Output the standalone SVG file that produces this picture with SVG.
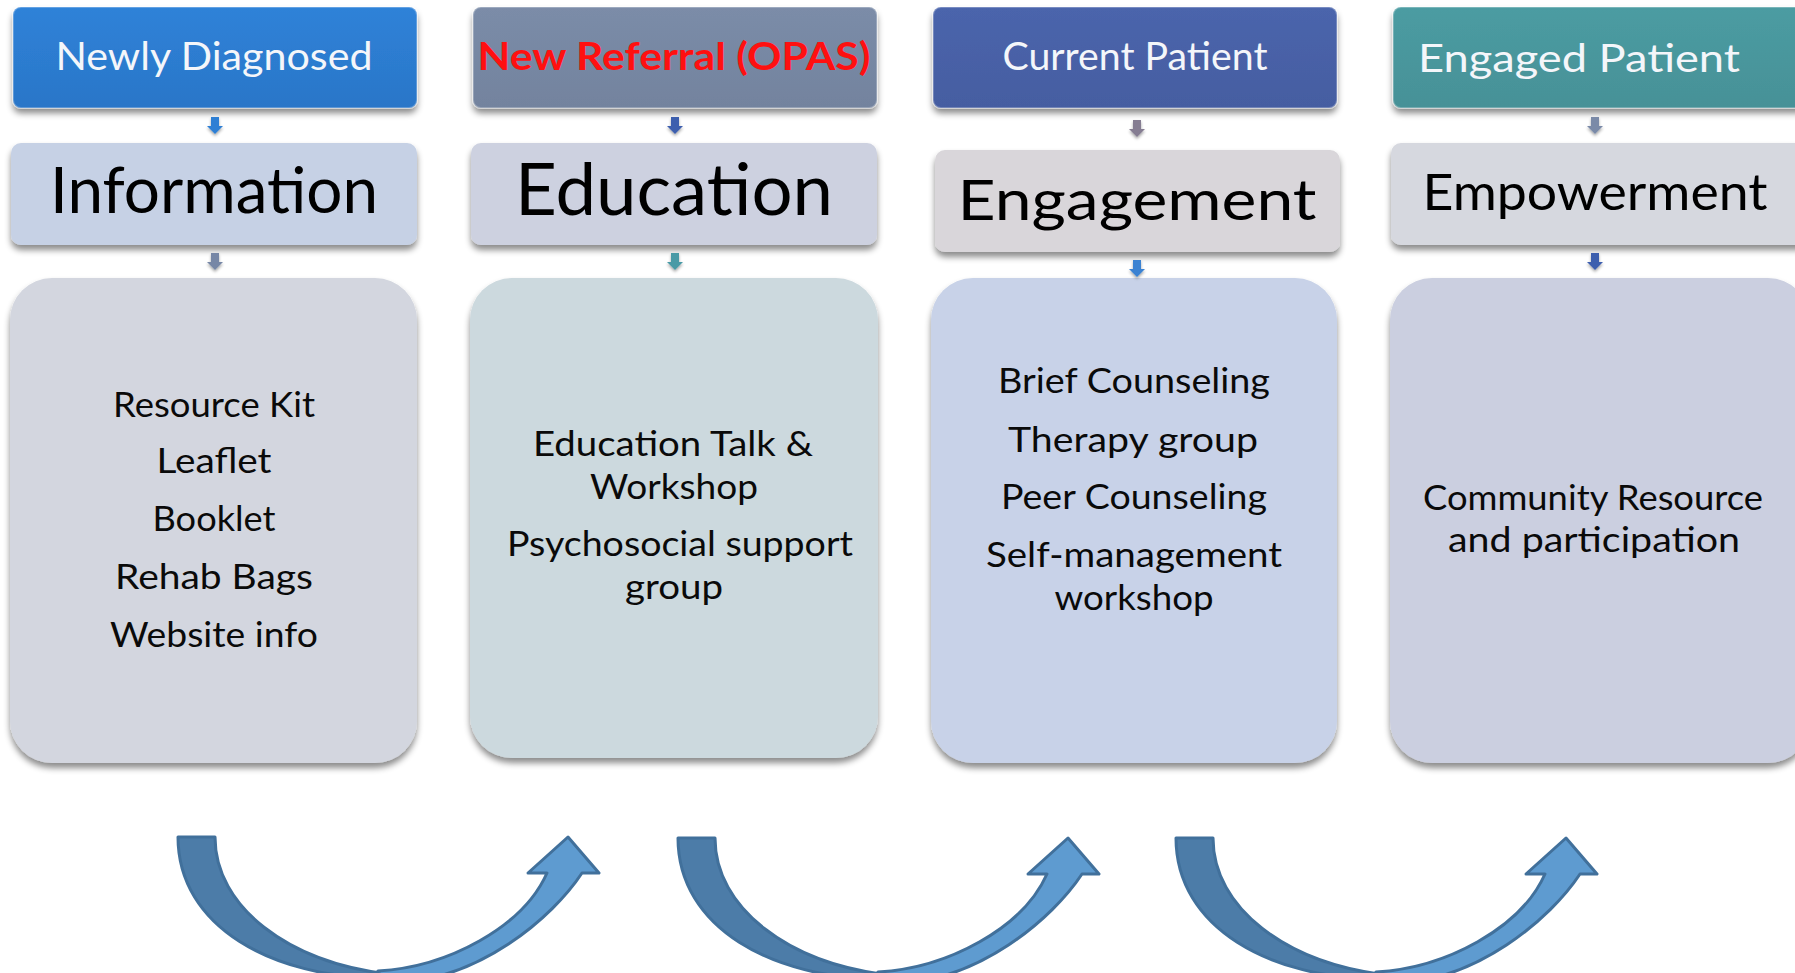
<svg xmlns="http://www.w3.org/2000/svg" width="1795" height="973" viewBox="0 0 1795 973">
<defs>
<filter id="sh" x="-10%" y="-10%" width="120%" height="135%">
<feDropShadow dx="0" dy="5" stdDeviation="3" flood-color="#000" flood-opacity="0.45"/>
</filter>
<filter id="shs" x="-50%" y="-50%" width="200%" height="200%">
<feDropShadow dx="0" dy="2" stdDeviation="1.5" flood-color="#000" flood-opacity="0.35"/>
</filter>
<linearGradient id="g1" x1="0" y1="0" x2="0" y2="1"><stop offset="0" stop-color="#2f82d8"/><stop offset="1" stop-color="#2a76c8"/></linearGradient>
<linearGradient id="g2" x1="0" y1="0" x2="0" y2="1"><stop offset="0" stop-color="#7b8ca8"/><stop offset="1" stop-color="#73839e"/></linearGradient>
<linearGradient id="g3" x1="0" y1="0" x2="0" y2="1"><stop offset="0" stop-color="#4b65ac"/><stop offset="1" stop-color="#455da1"/></linearGradient>
<linearGradient id="g4" x1="0" y1="0" x2="0" y2="1"><stop offset="0" stop-color="#4c9ca2"/><stop offset="1" stop-color="#469197"/></linearGradient>
<path id="sa" d="M-4,0 H4 V9 H8 L0,17 L-8,9 H-4 Z"/>
<g id="ua">
<path class="ad" d="M0,0 H37 C37,70 110,125 210,137 L205,141 C95,141 0,90 0,0 Z"/>
<path class="al" d="M200,134 C270,130 345,90 369,36 L350,36 L390,0 L421,36 L404,36 C375,80 300,145 215,145 C208,145 203,140 200,134 Z"/>
</g>
</defs>
<style>
.hdr{stroke:#ffffff;stroke-opacity:0.25;stroke-width:2;filter:url(#sh)}
.mid{filter:url(#sh)}
.big{filter:url(#sh)}
.ht{font-family:Lato,"Liberation Sans",sans-serif;font-size:38px;fill:#f4f6fa;text-anchor:middle}
.tt{font-family:Lato,"Liberation Sans",sans-serif;fill:#000;text-anchor:middle}
.bt{font-family:Lato,"Liberation Sans",sans-serif;font-size:35px;fill:#0a0a0a;text-anchor:middle}
.ad{fill:#4c7ca8;stroke:#41709b;stroke-width:3;stroke-linejoin:round}
.al{fill:#5e9bd0;stroke:#41709b;stroke-width:3;stroke-linejoin:round}
.sm{filter:url(#shs)}
</style>
<rect width="1795" height="973" fill="#ffffff"/>

<g id="col1">
<rect class="hdr" x="13" y="7" width="404" height="101" rx="8" fill="url(#g1)"/>
<text class="ht" x="214" y="70" textLength="317" lengthAdjust="spacingAndGlyphs">Newly Diagnosed</text>
<rect class="mid" x="11" y="143" width="406" height="102" rx="10" fill="#c6d1e5"/>
<text class="tt" x="214" y="213" font-size="64" textLength="328" lengthAdjust="spacingAndGlyphs">Information</text>
<rect class="big" x="10" y="278" width="407" height="485" rx="42" fill="#d3d6df"/>
<text class="bt" x="214" y="417" textLength="202" lengthAdjust="spacingAndGlyphs">Resource Kit</text>
<text class="bt" x="214" y="473" textLength="115" lengthAdjust="spacingAndGlyphs">Leaflet</text>
<text class="bt" x="214" y="531" textLength="123" lengthAdjust="spacingAndGlyphs">Booklet</text>
<text class="bt" x="214" y="589" textLength="198" lengthAdjust="spacingAndGlyphs">Rehab Bags</text>
<text class="bt" x="214" y="647" textLength="208" lengthAdjust="spacingAndGlyphs">Website info</text>
</g>

<g id="col2">
<rect class="hdr" x="473" y="7" width="404" height="101" rx="8" fill="url(#g2)"/>
<text x="674" y="70" font-family="Lato,'Liberation Sans',sans-serif" font-weight="700" font-size="38" fill="#ff1010" text-anchor="middle" textLength="393" lengthAdjust="spacingAndGlyphs">New Referral (OPAS)</text>
<rect class="mid" x="471" y="143" width="406" height="102" rx="10" fill="#cdd1e0"/>
<text class="tt" x="674" y="215" font-size="72" textLength="318" lengthAdjust="spacingAndGlyphs">Education</text>
<rect class="big" x="470" y="278" width="408" height="480" rx="42" fill="#ccd9de"/>
<text class="bt" x="673" y="456" textLength="280" lengthAdjust="spacingAndGlyphs">Education Talk &amp;</text>
<text class="bt" x="674" y="499" textLength="168" lengthAdjust="spacingAndGlyphs">Workshop</text>
<text class="bt" x="680" y="556" textLength="346" lengthAdjust="spacingAndGlyphs">Psychosocial support</text>
<text class="bt" x="674" y="599" textLength="98" lengthAdjust="spacingAndGlyphs">group</text>
</g>

<g id="col3">
<rect class="hdr" x="933" y="7" width="404" height="101" rx="8" fill="url(#g3)"/>
<text class="ht" x="1135" y="70" textLength="265" lengthAdjust="spacingAndGlyphs">Current Patient</text>
<rect class="mid" x="935" y="150" width="405" height="102" rx="10" fill="#d9d6da"/>
<text class="tt" x="1137" y="220" font-size="57" textLength="359" lengthAdjust="spacingAndGlyphs">Engagement</text>
<rect class="big" x="931" y="278" width="406" height="485" rx="42" fill="#c8d2e8"/>
<text class="bt" x="1134" y="393" textLength="272" lengthAdjust="spacingAndGlyphs">Brief Counseling</text>
<text class="bt" x="1133" y="452" textLength="250" lengthAdjust="spacingAndGlyphs">Therapy group</text>
<text class="bt" x="1134" y="509" textLength="266" lengthAdjust="spacingAndGlyphs">Peer Counseling</text>
<text class="bt" x="1134" y="567" textLength="296" lengthAdjust="spacingAndGlyphs">Self-management</text>
<text class="bt" x="1134" y="610" textLength="159" lengthAdjust="spacingAndGlyphs">workshop</text>
</g>

<g id="col4">
<rect class="hdr" x="1393" y="7" width="420" height="101" rx="8" fill="url(#g4)"/>
<text class="ht" x="1579" y="72" textLength="322" lengthAdjust="spacingAndGlyphs">Engaged Patient</text>
<rect class="mid" x="1391" y="143" width="420" height="102" rx="10" fill="#d6d8df"/>
<text class="tt" x="1595" y="210" font-size="50" textLength="345" lengthAdjust="spacingAndGlyphs">Empowerment</text>
<rect class="big" x="1390" y="278" width="420" height="485" rx="42" fill="#cbcfe0"/>
<text class="bt" x="1593" y="510" textLength="340" lengthAdjust="spacingAndGlyphs">Community Resource</text>
<text class="bt" x="1594" y="552" textLength="292" lengthAdjust="spacingAndGlyphs">and participation</text>
</g>

<g id="connectors">
<use href="#sa" class="sm" x="215" y="117" fill="#2f7fd4"/>
<use href="#sa" class="sm" x="215" y="253" fill="#7787a6"/>
<use href="#sa" class="sm" x="675" y="117" fill="#3d5fae"/>
<use href="#sa" class="sm" x="675" y="253" fill="#4a9aa6"/>
<use href="#sa" class="sm" x="1137" y="120" fill="#857d92"/>
<use href="#sa" class="sm" x="1137" y="260" fill="#3a82d2"/>
<use href="#sa" class="sm" x="1595" y="117" fill="#7a8aa8"/>
<use href="#sa" class="sm" x="1595" y="253" fill="#3d5fae"/>
<use href="#ua" transform="translate(178,837)"/>
<use href="#ua" transform="translate(678,838)"/>
<use href="#ua" transform="translate(1176,838)"/>
</g>
</svg>
